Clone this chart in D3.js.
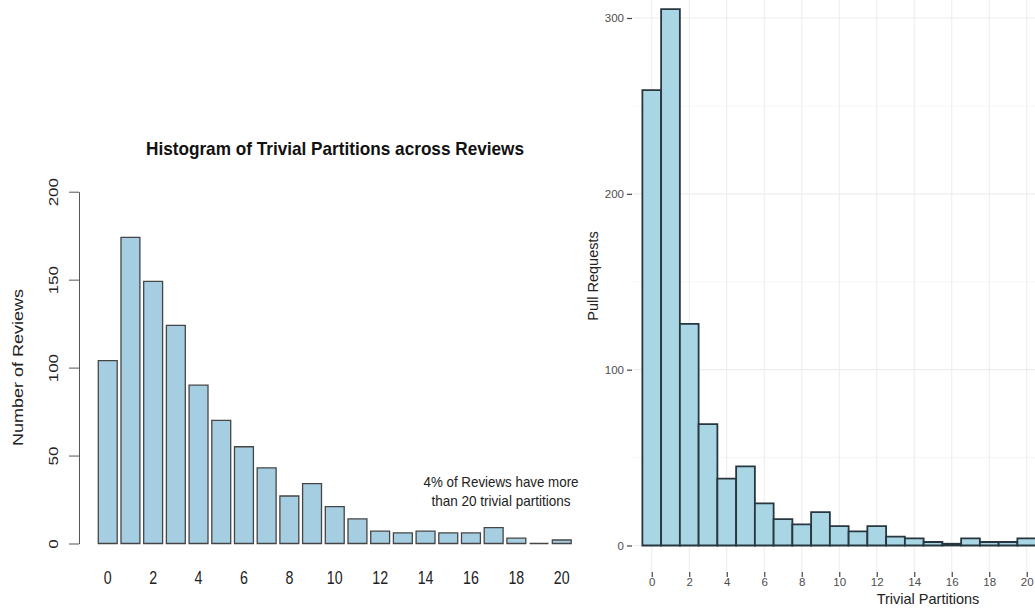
<!DOCTYPE html>
<html>
<head>
<meta charset="utf-8">
<script src="https://cdn.jsdelivr.net/npm/d3@7"></script>
<style>
  html, body { margin: 0; padding: 0; background: #fff; }
  svg { display: block; font-family: "Liberation Sans", Arial, Helvetica, sans-serif; }
</style>
</head>
<body>
<svg id="chart" width="1035" height="612"></svg>
<script>
// Trivial partitions per review (left histogram)
const reviewPartitions = [0, 1, 2, 3, 4, 5, 6, 7, 8, 9, 10, 11, 12, 13, 14, 15, 16, 17, 18, 19, 20];
const reviewCounts = [104, 174, 149, 124, 90, 70, 55, 43, 27, 34, 21, 14, 7, 6, 7, 6, 6, 9, 3, 0, 2];
const reviewYTicks = [0, 50, 100, 150, 200];
const reviewXTicks = [0, 2, 4, 6, 8, 10, 12, 14, 16, 18, 20];
const reviewTitle = "Histogram of Trivial Partitions across Reviews";
const reviewNote = ["4% of Reviews have more", "than 20 trivial partitions"];

// Trivial partitions per pull request (right histogram)
const prPartitions = [0, 1, 2, 3, 4, 5, 6, 7, 8, 9, 10, 11, 12, 13, 14, 15, 16, 17, 18, 19, 20];
const prCounts = [259, 305, 126, 69, 38, 45, 24, 15, 12, 19, 11, 8, 11, 5, 4, 2, 1, 4, 2, 2, 4];
const prYTicks = [0, 100, 200, 300];
const prYGrid = [0, 50, 100, 150, 200, 250, 300];
const prXTicks = [0, 2, 4, 6, 8, 10, 12, 14, 16, 18, 20];

const svg = d3.select("#chart");

// Bars drawn as paths so a zero count still shows as a flat outline
function barPath(x, w, y0, y1) {
  return `M${x},${y0}H${x + w}V${y1}H${x}Z`;
}

/* ---------------- Left: base-graphics style barplot ---------------- */
const squeeze = 0.79;
const left = svg.append("g");

const xL = d3.scaleBand()
  .domain(reviewPartitions)
  .range([94.5, 575])
  .paddingInner(1 / 6)
  .paddingOuter(1 / 6);
const yL = d3.scaleLinear().domain([0, 200]).range([543.5, 191.7]);

left.append("g")
  .selectAll("path")
  .data(reviewPartitions)
  .join("path")
  .attr("d", (d, i) => barPath(xL(d), xL.bandwidth(), yL(0), yL(reviewCounts[i])))
  .attr("fill", "#a6cee3")
  .attr("stroke", "#454545")
  .attr("stroke-width", 1.3);

// y axis
const yAxisL = left.append("g")
  .attr("transform", "translate(79,0)")
  .call(d3.axisLeft(yL).tickValues(reviewYTicks).tickSize(10).tickSizeOuter(0));
yAxisL.select(".domain").attr("stroke", "#555");
yAxisL.selectAll(".tick line").attr("stroke", "#555");
yAxisL.selectAll(".tick text")
  .attr("x", null).attr("y", null).attr("dy", null)
  .attr("text-anchor", "middle")
  .attr("transform", `translate(-21,0) scale(${squeeze},1) rotate(-90)`)
  .attr("font-size", 17)
  .attr("font-family", "Liberation Sans, Arial, sans-serif")
  .attr("fill", "#222");

// x labels (no axis line)
const xAxisL = left.append("g")
  .attr("transform", "translate(0,583.5)")
  .call(d3.axisBottom(xL).tickValues(reviewXTicks).tickSize(0).tickPadding(0));
xAxisL.select(".domain").remove();
xAxisL.selectAll(".tick text")
  .attr("y", 0).attr("dy", null)
  .attr("transform", `scale(${squeeze},1)`)
  .attr("font-size", 18)
  .attr("font-family", "Liberation Sans, Arial, sans-serif")
  .attr("fill", "#222");

// y axis title
left.append("text")
  .attr("transform", `translate(23,367.6) scale(${squeeze},1) rotate(-90)`)
  .attr("text-anchor", "middle")
  .attr("font-size", 18)
  .attr("fill", "#222")
  .text("Number of Reviews");

// title
left.append("text")
  .attr("x", 335).attr("y", 155)
  .attr("text-anchor", "middle")
  .attr("font-size", 18.5)
  .attr("font-weight", "bold")
  .attr("fill", "#111")
  .attr("textLength", 378)
  .attr("lengthAdjust", "spacingAndGlyphs")
  .text(reviewTitle);

// note
left.append("g")
  .selectAll("text")
  .data(reviewNote)
  .join("text")
  .attr("x", 501)
  .attr("y", (d, i) => 487 + i * 19)
  .attr("text-anchor", "middle")
  .attr("font-size", 14.5)
  .attr("fill", "#222")
  .attr("textLength", (d, i) => i === 0 ? 155 : 139)
  .attr("lengthAdjust", "spacingAndGlyphs")
  .text(d => d);

/* ---------------- Right: minimal-theme histogram ---------------- */
const right = svg.append("g");
const panelLeft = 633, panelBottom = 572;

const xR = d3.scaleLinear().domain([-1, 21]).range([panelLeft, panelLeft + 22 * 18.75]);
const yR = d3.scaleLinear().domain([0, 300]).range([545.5, 18]);

// grid
right.append("g")
  .selectAll("line")
  .data(prYGrid)
  .join("line")
  .attr("x1", panelLeft).attr("x2", 1035)
  .attr("y1", d => yR(d)).attr("y2", d => yR(d))
  .attr("stroke", d => d % 100 === 0 ? "#ededed" : "#f4f4f4")
  .attr("stroke-width", d => d % 100 === 0 ? 1.1 : 0.8);
right.append("g")
  .selectAll("line")
  .data(prXTicks)
  .join("line")
  .attr("x1", d => xR(d)).attr("x2", d => xR(d))
  .attr("y1", 0).attr("y2", panelBottom)
  .attr("stroke", "#ededed")
  .attr("stroke-width", 1.1);

// bars
right.append("g")
  .selectAll("path")
  .data(prPartitions)
  .join("path")
  .attr("d", (d, i) => {
    const x0 = xR(d - 0.5), x1 = xR(d + 0.5);
    return barPath(x0, x1 - x0, yR(0), yR(prCounts[i]));
  })
  .attr("fill", "#a9d6e4")
  .attr("stroke", "#28363f")
  .attr("stroke-width", 1.8);

// y axis
const yAxisR = right.append("g")
  .attr("transform", `translate(${panelLeft - 1},0)`)
  .call(d3.axisLeft(yR).tickValues(prYTicks).tickSize(5).tickPadding(3));
yAxisR.select(".domain").remove();
yAxisR.selectAll(".tick line").attr("stroke", "#444").attr("stroke-width", 1.2);
yAxisR.selectAll(".tick text")
  .attr("font-size", 11.5)
  .attr("font-family", "Liberation Sans, Arial, sans-serif")
  .attr("fill", "#4d4d4d");

// x axis
const xAxisR = right.append("g")
  .attr("transform", `translate(0,${panelBottom})`)
  .call(d3.axisBottom(xR).tickValues(prXTicks).tickSize(5).tickPadding(1));
xAxisR.select(".domain").remove();
xAxisR.selectAll(".tick line").attr("stroke", "#444").attr("stroke-width", 1.2);
xAxisR.selectAll(".tick text")
  .attr("font-size", 11.5)
  .attr("font-family", "Liberation Sans, Arial, sans-serif")
  .attr("fill", "#4d4d4d");

// axis titles
right.append("text")
  .attr("x", 928).attr("y", 604)
  .attr("text-anchor", "middle")
  .attr("font-size", 14.5)
  .attr("fill", "#222")
  .text("Trivial Partitions");
right.append("text")
  .attr("transform", "translate(598,276) rotate(-90)")
  .attr("text-anchor", "middle")
  .attr("font-size", 14.5)
  .attr("fill", "#222")
  .text("Pull Requests");
</script>
</body>
</html>
